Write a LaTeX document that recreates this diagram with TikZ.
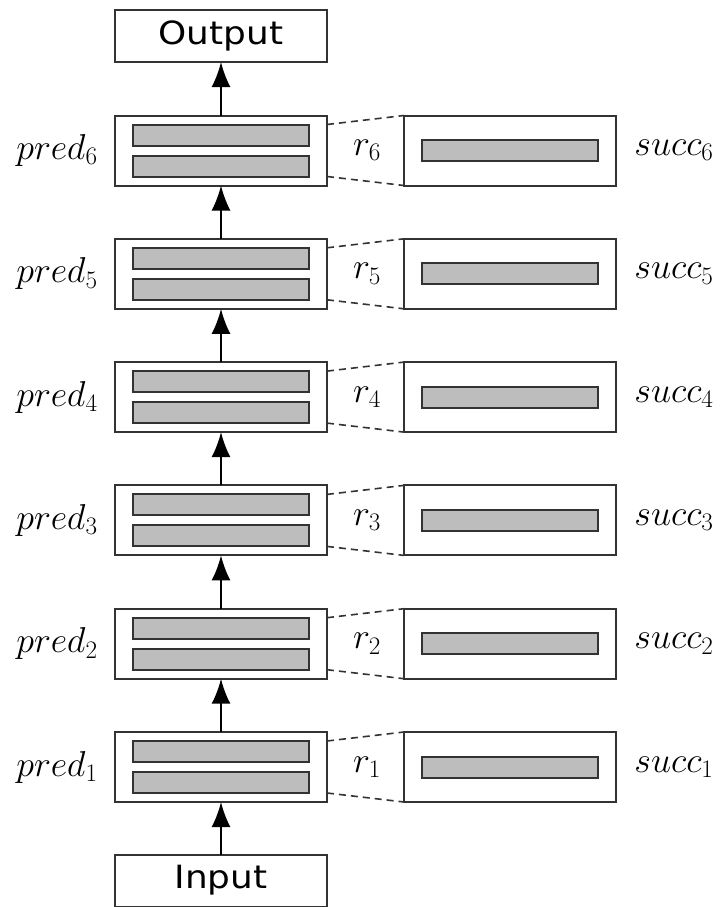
\RequirePackage{fix-cm}
\documentclass[tikz,border=0pt]{standalone}
\usepackage{fontspec}
\usepackage{graphicx}
\newfontfamily\boxfont{DejaVu Sans}
\usetikzlibrary{arrows.meta}
\definecolor{edge}{HTML}{333333}
\definecolor{barfill}{HTML}{BDBDBD}
\begin{document}
\begin{tikzpicture}[x=1pt,y=-1pt,
  box/.style={draw=edge,line width=2pt,fill=white,minimum width=212pt,minimum height=70pt,inner sep=0pt,outer sep=0pt},
  bar/.style={draw=edge,line width=2pt,fill=barfill,minimum width=176pt,minimum height=21pt,inner sep=0pt,outer sep=0pt},
  io/.style={draw=edge,line width=2pt,fill=white,minimum width=212pt,minimum height=52pt,inner sep=0pt,outer sep=0pt,font=\boxfont\fontsize{32}{36}\selectfont},
  lbl/.style={font=\fontsize{36}{40}\selectfont,inner sep=0pt},
  flow/.style={draw=black,line width=2pt,-{Latex[length=25pt,width=19pt]}},
  link/.style={draw=edge,line width=1.6pt,dash pattern=on 7pt off 5pt}]
\useasboundingbox[fill=white] (0,0) rectangle (720,907);
\node[io] (out) at (221,36) {\scalebox{1.12}[1]{Output}};
\node[io] (in) at (221,880.5) {\scalebox{1.12}[1]{Input}};
\foreach \k in {1,...,6}{
  \pgfmathsetmacro\c{767-(\k-1)*123.3}
  \node[box] (p\k) at (221,\c) {};
  \node[bar] (pa\k) at (221,\c-15.5) {};
  \node[bar] (pb\k) at (221,\c+15.5) {};
  \node[box] (s\k) at (510,\c) {};
  \node[bar] (sa\k) at (510,\c) {};
  \node[lbl] (lp\k) at (57,\c) {$pred_{\k}$};
  \node[lbl] (lr\k) at (367,\c) {$r_{\k}$};
  \node[lbl] (ls\k) at (674,\c) {$succ_{\k}$};
  \draw[link] (p\k.east |- pa\k.north) -- (s\k.north west);
  \draw[link] (p\k.east |- pb\k.south) -- (s\k.south west);
}
\draw[flow] (in.north) -- (p1.south);
\foreach \k [evaluate=\k as \n using int(\k+1)] in {1,...,5}{
  \draw[flow] (p\k.north) -- (p\n.south);
}
\draw[flow] (p6.north) -- (out.south);
\end{tikzpicture}
\end{document}
